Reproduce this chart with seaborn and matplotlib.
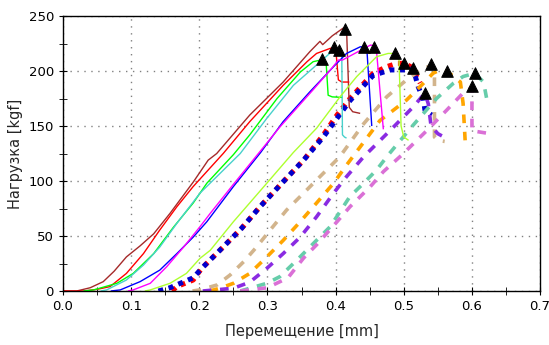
import matplotlib
matplotlib.use("Agg")
import matplotlib.pyplot as plt
from matplotlib.ticker import MultipleLocator
import seaborn as sns

# displacement [mm] / load [kgf], one pair per specimen
brown_x = [0.0, 0.02, 0.04, 0.059, 0.075, 0.093, 0.113, 0.133, 0.157, 0.191, 0.213, 0.2255,
           0.274, 0.323, 0.362, 0.377, 0.381, 0.395, 0.411, 0.416, 0.42, 0.425, 0.436]
brown_y = [0, 0, 3, 8.5, 18, 31, 41, 52, 70.6, 99, 119, 125,
           160, 190, 217.5, 227, 224, 232, 239, 238, 167, 163, 161.5]

red_x = [0.0, 0.03, 0.05, 0.069, 0.093, 0.118, 0.142, 0.167, 0.191, 0.213, 0.235, 0.274,
         0.323, 0.358, 0.372, 0.392, 0.397, 0.401, 0.404, 0.409, 0.42]
red_y = [0, 0, 1.5, 4, 16, 34, 55.5, 76.6, 95, 110, 125, 154,
         187, 208.5, 216, 220.6, 221, 214, 192, 190, 190]

green_x = [0.03, 0.045, 0.079, 0.103, 0.133, 0.162, 0.191, 0.211, 0.25, 0.274, 0.314, 0.348,
           0.367, 0.378, 0.386, 0.389, 0.395, 0.41]
green_y = [0, 1, 7, 16, 34, 58, 80, 98, 124, 142, 175, 199,
           208.5, 210, 208, 178, 176.5, 176]

cyan_x = [0.055, 0.064, 0.093, 0.118, 0.142, 0.167, 0.201, 0.26, 0.299, 0.338, 0.372, 0.394,
          0.405, 0.409, 0.41, 0.413, 0.416]
cyan_y = [0, 1, 10, 23.6, 40, 61.5, 89, 125, 157, 187, 205.5, 217.5,
          218, 215, 142, 140, 139]

blue_x = [0.07, 0.084, 0.113, 0.142, 0.167, 0.191, 0.211, 0.25, 0.29, 0.323, 0.362, 0.397,
          0.416, 0.436, 0.442, 0.446, 0.453]
blue_y = [0, 1, 8.5, 19, 34, 49, 63, 95, 126, 154, 181, 204,
          216, 222, 222, 218, 150]

magenta_x = [0.095, 0.103, 0.128, 0.152, 0.177, 0.201, 0.216, 0.25, 0.318, 0.367, 0.395, 0.404,
             0.41, 0.451, 0.457, 0.46, 0.47]
magenta_y = [0, 1, 7, 22, 40, 58.5, 70.6, 97, 149, 183, 203, 210,
             210, 223.6, 223, 218, 147]

yg_x = [0.12, 0.128, 0.157, 0.181, 0.201, 0.216, 0.25, 0.299, 0.338, 0.372, 0.407, 0.431,
        0.46, 0.477, 0.485, 0.493, 0.496, 0.5, 0.507]
yg_y = [0, 1, 7, 16, 29.7, 37, 63, 98, 126, 148, 177, 195,
        213, 216, 216, 210, 150, 140, 137]

red_dot_x = [0.16, 0.167, 0.191, 0.2035, 0.233, 0.262, 0.289, 0.318, 0.353, 0.382, 0.402, 0.421,
             0.455, 0.475, 0.49, 0.501, 0.51, 0.518, 0.524]
red_dot_y = [0, 4, 10, 20.6, 38.8, 57, 76.6, 96, 119, 142, 160, 175,
             198, 204, 207, 207, 204, 196, 189]

blue_dot_x = [0.14, 0.157, 0.191, 0.2035, 0.233, 0.262, 0.289, 0.318, 0.353, 0.382, 0.402, 0.421,
              0.455, 0.48, 0.502, 0.514, 0.517, 0.521, 0.529, 0.531, 0.541]
blue_dot_y = [0, 3, 12, 20.6, 38.8, 57, 76.6, 96, 119, 140, 157, 173,
              196, 201, 201, 202, 195, 186, 173.6, 164.5, 160]

tan_x = [0.19, 0.201, 0.226, 0.245, 0.265, 0.284, 0.304, 0.328, 0.353, 0.377, 0.406, 0.441,
         0.475, 0.504, 0.524, 0.54, 0.545, 0.545, 0.55, 0.56]
tan_y = [0, 1, 5.5, 14.5, 26.6, 40, 55.5, 73.6, 89, 104, 122, 152,
         176.6, 192, 201, 205, 198, 140, 137, 136]

orange_x = [0.215, 0.23, 0.25, 0.274, 0.299, 0.323, 0.348, 0.372, 0.397, 0.416, 0.465, 0.504,
            0.529, 0.543, 0.553, 0.563, 0.573, 0.583, 0.587, 0.59]
orange_y = [0, 2.5, 7, 16, 31, 46, 63, 80, 98, 114.5, 155, 173.6,
            189, 198, 201, 200, 195, 190, 170.6, 137]

violet_x = [0.205, 0.25, 0.274, 0.299, 0.323, 0.348, 0.372, 0.397, 0.416, 0.441, 0.48, 0.514,
            0.531, 0.536, 0.54, 0.55, 0.565]
violet_y = [0, 2.5, 8, 20.6, 34, 49, 67.5, 89, 104, 122, 146, 167.5,
            180, 170, 150, 143, 138]

aqua_x = [0.26, 0.274, 0.299, 0.318, 0.343, 0.367, 0.392, 0.421, 0.441, 0.46, 0.477, 0.514,
          0.548, 0.573, 0.587, 0.604, 0.617, 0.622, 0.625]
aqua_y = [0, 2.5, 7, 13, 28, 43, 58.5, 86, 98, 110, 123.6, 151,
          175, 189, 195, 198, 190, 173.6, 170]

orchid_x = [0.26, 0.3, 0.33, 0.353, 0.372, 0.402, 0.421, 0.451, 0.47, 0.497, 0.534, 0.563,
            0.587, 0.6, 0.6, 0.607, 0.627]
orchid_y = [0, 3, 12, 30, 42, 63, 76.6, 95, 108.5, 123.6, 146, 164.5,
            180, 185, 146, 145, 143]

# maximum load of each specimen
peak_x = [0.413, 0.397, 0.405, 0.380, 0.442, 0.457, 0.487, 0.501, 0.514, 0.540, 0.563, 0.604, 0.600, 0.531]
peak_y = [238, 222, 219, 211, 222, 222, 216, 207, 203, 206, 200, 198, 186, 180]

solid = (0, ())
dotted = (0, (1, 1.1))
dashed = (0, (2.4, 2.4))

curves = [
    (red_dot_x, red_dot_y, "red", 3.6, dotted),
    (blue_dot_x, blue_dot_y, "mediumblue", 3.6, dotted),
    (tan_x, tan_y, "tan", 2.6, dashed),
    (orange_x, orange_y, "orange", 2.6, dashed),
    (violet_x, violet_y, "blueviolet", 2.6, dashed),
    (aqua_x, aqua_y, "mediumaquamarine", 2.6, dashed),
    (orchid_x, orchid_y, "orchid", 2.6, dashed),
    (brown_x, brown_y, "brown", 1.0, solid),
    (red_x, red_y, "red", 1.0, solid),
    (green_x, green_y, "lime", 1.0, solid),
    (cyan_x, cyan_y, "mediumturquoise", 1.0, solid),
    (blue_x, blue_y, "blue", 1.0, solid),
    (magenta_x, magenta_y, "magenta", 1.0, solid),
    (yg_x, yg_y, "greenyellow", 1.0, solid),
]

sns.set_style("ticks")
plt.rcParams["font.family"] = ["DejaVu Sans"]

fig = plt.figure(figsize=(5.49, 3.45), dpi=100)
ax = fig.add_axes([0.1148, 0.1565, 0.869, 0.797])

for xs, ys, col, lw, ls in curves:
    sns.lineplot(x=xs, y=ys, ax=ax, color=col, linewidth=lw, linestyle=ls,
                 sort=False, estimator=None)

sns.scatterplot(x=peak_x, y=peak_y, ax=ax, marker="^", color="black", s=70,
                edgecolor="black", zorder=5)

ax.set_xlim(0, 0.7)
ax.set_ylim(0, 250)
ax.xaxis.set_major_locator(MultipleLocator(0.1))
ax.xaxis.set_minor_locator(MultipleLocator(0.05))
ax.yaxis.set_major_locator(MultipleLocator(50))
ax.yaxis.set_minor_locator(MultipleLocator(25))
ax.xaxis.set_major_formatter(matplotlib.ticker.FormatStrFormatter("%.1f"))
ax.grid(True, which="major", linestyle=(0, (1, 4)), color="gray", linewidth=1)
ax.tick_params(which="both", direction="inout", labelsize=9.5, colors="black")
ax.tick_params(which="major", length=6)
ax.tick_params(which="minor", length=6)
for sp in ax.spines.values():
    sp.set_linewidth(1.0)
    sp.set_color("black")

ax.set_xlabel("Перемещение [mm]", fontsize=10.5, labelpad=8)
ax.set_ylabel("Нагрузка [kgf]", fontsize=10.5, labelpad=4)

fig.savefig("out.png", dpi=100)
